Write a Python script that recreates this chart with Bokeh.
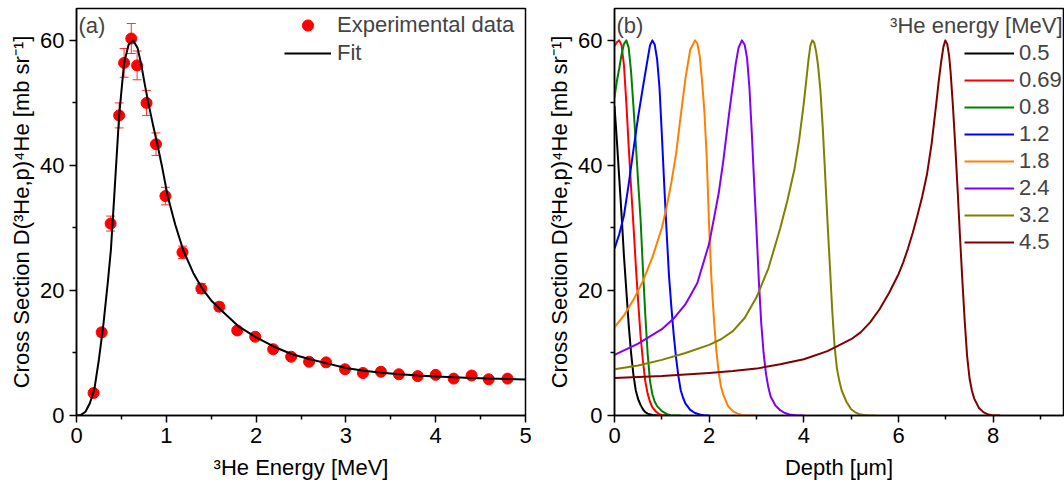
import numpy as np
from bokeh.plotting import figure
from bokeh.models import (ColumnDataSource, Whisker, TeeHead, Legend, LegendItem,
                          Label, Range1d, FixedTicker)
from bokeh.layouts import row
from bokeh.embed import file_html
from bokeh.resources import INLINE

FONT = "Liberation Sans"
FS_TICK = "22px"
FS_AXIS = "22px"
FS_LEG = "22px"

# ---------------- panel (a) data ----------------
exp_energy = [0.19, 0.28, 0.38, 0.475, 0.53, 0.61, 0.675, 0.78, 0.885, 0.99,
              1.18, 1.39, 1.59, 1.79, 1.99, 2.19, 2.39, 2.59, 2.78, 2.99,
              3.19, 3.39, 3.59, 3.80, 4.00, 4.20, 4.40, 4.59, 4.80]
exp_xs = [3.6, 13.3, 30.7, 48.0, 56.4, 60.3, 56.0, 50.0, 43.4, 35.1,
          26.1, 20.3, 17.4, 13.6, 12.6, 10.6, 9.4, 8.6, 8.5, 7.4,
          6.8, 7.0, 6.6, 6.3, 6.5, 5.9, 6.4, 5.8, 5.9]
exp_err = [0.4, 0.6, 1.2, 2.0, 2.3, 2.4, 2.3, 2.0, 1.8, 1.4,
           1.0, 0.8, 0.7, 0.5, 0.5, 0.4, 0.4, 0.3, 0.3, 0.3,
           0.3, 0.3, 0.3, 0.3, 0.3, 0.3, 0.3, 0.3, 0.3]

fit_energy = [0.0, 0.05, 0.1, 0.15, 0.2, 0.25, 0.3, 0.35, 0.383, 0.42, 0.475,
              0.53, 0.58, 0.632, 0.68, 0.72, 0.76, 0.8, 0.85, 0.9, 0.95, 1.015,
              1.1, 1.187, 1.3, 1.4, 1.5, 1.6, 1.8, 2.0, 2.2, 2.4, 2.6, 2.8, 3.0,
              3.2, 3.4, 3.6, 3.8, 4.0, 4.2, 4.4, 4.6, 4.8, 5.0]
fit_xs = [0.0, 0.1, 0.6, 2.0, 4.3, 9.0, 14.6, 21.5, 26.5, 35.0, 48.0,
          56.4, 59.3, 60.0, 58.8, 56.2, 53.0, 50.0, 46.6, 43.4, 40.0, 35.1,
          30.5, 26.5, 22.8, 20.3, 18.4, 17.0, 14.3, 12.5, 11.0, 9.8, 9.0, 8.3, 7.6,
          7.15, 6.85, 6.6, 6.4, 6.25, 6.1, 6.0, 5.9, 5.82, 5.76]

# ---------------- panel (b) data ----------------
beam_labels = ["0.5", "0.69", "0.8", "1.2", "1.8", "2.4", "3.2", "4.5"]
beam_colors = ["#000000", "#FF0000", "#008000", "#0000FF",
               "#FF8000", "#8000FF", "#808000", "#800000"]

depth_05 = [0, 0.05, 0.1, 0.15, 0.2, 0.25, 0.3, 0.35, 0.4, 0.45, 0.5, 0.55,
            0.6, 0.65, 0.7, 0.8, 0.9, 1.1]
xs_05 = [49.5, 44, 38, 32, 25.5, 20, 14.5, 10, 6.5, 4.0, 2.6, 1.7,
         1.0, 0.55, 0.3, 0.08, 0.0, 0.0]

depth_069 = [0, 0.05, 0.1, 0.15, 0.2, 0.25, 0.3, 0.35, 0.4, 0.45, 0.5, 0.55,
             0.6, 0.65, 0.7, 0.75, 0.8, 0.88, 0.95, 1.05, 1.2]
xs_069 = [59.1, 59.7, 60.0, 59.2, 56.0, 50.0, 43.0, 36.5, 30.5, 24.0, 18.2, 12.8,
          8.8, 5.5, 3.5, 2.2, 1.3, 0.6, 0.2, 0.0, 0.0]

depth_08 = [0, 0.05, 0.1, 0.15, 0.2, 0.25, 0.3, 0.35, 0.4, 0.45, 0.5, 0.55,
            0.6, 0.65, 0.7, 0.75, 0.8, 0.85, 0.9, 1.0, 1.1, 1.2, 1.4]
xs_08 = [50.9, 53.5, 55.5, 57.8, 59.4, 60.0, 58.8, 55.0, 49.5, 43.5, 37.3, 31.5,
         23.5, 16.2, 9.9, 5.5, 3.4, 2.2, 1.5, 0.7, 0.25, 0.0, 0.0]

depth_12 = [0, 0.1, 0.2, 0.3, 0.4, 0.5, 0.6, 0.7, 0.75, 0.8, 0.85, 0.9, 0.95,
            1.0, 1.05, 1.1, 1.15, 1.2, 1.25, 1.3, 1.35, 1.4, 1.45, 1.5, 1.6,
            1.7, 1.8, 1.9, 2.0]
xs_12 = [26.7, 29.0, 32.0, 37.0, 42.5, 47.8, 52.5, 57.0, 59.2, 60.0, 59.3, 57.0, 52.5,
         45.0, 37.0, 29.5, 22.5, 17.5, 13.0, 9.3, 6.3, 4.0, 2.8, 1.9, 0.9,
         0.4, 0.15, 0.0, 0.0]

depth_18 = [0, 0.2, 0.4, 0.6, 0.8, 1.0, 1.1, 1.2, 1.3, 1.4, 1.5, 1.6, 1.7, 1.75,
            1.8, 1.85, 1.9, 1.95, 2.0, 2.05, 2.1, 2.15, 2.2, 2.25, 2.3, 2.4, 2.5,
            2.6, 2.7, 2.85, 3.0]
xs_18 = [14.1, 16.0, 18.5, 21.5, 25.3, 30.0, 33.3, 37.2, 41.8, 48.0, 54.0, 58.5, 60.0, 59.5,
         57.5, 53.5, 48.5, 41.0, 30.0, 21.5, 15.5, 10.5, 7.0, 4.6, 3.3, 1.5, 0.7,
         0.3, 0.1, 0.0, 0.0]

depth_24 = [0, 0.5, 1.0, 1.25, 1.5, 1.75, 2.0, 2.1, 2.2, 2.3, 2.4, 2.45, 2.5, 2.56,
            2.62, 2.69, 2.75, 2.8, 2.85, 2.9, 2.95, 3.0, 3.05, 3.1, 3.15, 3.2, 3.25,
            3.3, 3.4, 3.5, 3.6, 3.7, 3.85, 4.0]
xs_24 = [9.7, 11.5, 13.8, 15.5, 17.8, 21.2, 27.5, 31.5, 35.5, 40.8, 47.0, 50.0, 52.8, 56.2,
         58.8, 60.0, 59.3, 57.2, 52.5, 45.3, 37.3, 29.6, 21.5, 14.8, 10.0, 6.7, 4.5,
         3.0, 1.6, 0.85, 0.4, 0.15, 0.0, 0.0]

depth_32 = [0, 0.5, 1.0, 1.5, 2.0, 2.25, 2.5, 2.75, 3.0, 3.25, 3.5, 3.65, 3.8, 3.9,
            4.0, 4.05, 4.1, 4.14, 4.18, 4.22, 4.26, 4.3, 4.35, 4.4, 4.45, 4.5, 4.55,
            4.6, 4.65, 4.7, 4.75, 4.8, 4.9, 5.0, 5.1, 5.2, 5.35, 5.5]
xs_32 = [7.4, 8.0, 8.9, 10.0, 11.3, 12.2, 13.5, 15.6, 18.9, 23.5, 29.9, 34.3, 39.3, 44.0,
         50.0, 53.5, 57.0, 59.2, 60.0, 59.6, 58.2, 56.0, 52.0, 46.0, 38.6, 31.0, 24.0,
         16.8, 11.0, 7.5, 5.5, 4.0, 2.2, 1.0, 0.45, 0.15, 0.0, 0.0]

depth_45 = [0, 1.0, 2.0, 2.5, 3.0, 3.5, 4.0, 4.5, 5.0, 5.2, 5.4, 5.6, 5.8, 6.0,
            6.1, 6.2, 6.3, 6.4, 6.5, 6.6, 6.7, 6.8, 6.85, 6.9, 6.95, 6.99, 7.03,
            7.07, 7.1, 7.15, 7.2, 7.25, 7.3, 7.35, 7.4, 7.45, 7.5, 7.55, 7.6, 7.7,
            7.8, 7.9, 8.0, 8.15]
xs_45 = [6.0, 6.3, 6.8, 7.1, 7.5, 8.2, 9.0, 10.3, 12.2, 13.3, 14.9, 17.0, 19.6, 22.6,
         24.5, 26.7, 29.2, 32.0, 35.0, 38.5, 43.5, 50.0, 53.5, 56.5, 59.0, 60.0, 59.4,
         57.5, 55.0, 49.5, 43.0, 36.0, 28.5, 21.5, 15.0, 9.5, 6.0, 4.0, 2.7, 1.2,
         0.5, 0.15, 0.0, 0.0]

beam_depths = [depth_05, depth_069, depth_08, depth_12, depth_18, depth_24, depth_32, depth_45]
beam_xs = [xs_05, xs_069, xs_08, xs_12, xs_18, xs_24, xs_32, xs_45]

YLABEL = "Cross Section D(\u00b3He,p)\u2074He [mb sr\u207b\u00b9]"


def style(p, xticks, xminor, xlabel):
    p.xaxis.ticker = FixedTicker(ticks=xticks, minor_ticks=xminor)
    p.yaxis.ticker = FixedTicker(ticks=[0, 20, 40, 60], minor_ticks=[10, 30, 50])
    p.xgrid.visible = False
    p.ygrid.visible = False
    p.outline_line_color = "black"
    p.outline_line_width = 1.5
    p.xaxis.axis_label = xlabel
    p.yaxis.axis_label = YLABEL
    for ax in (p.xaxis[0], p.yaxis[0]):
        ax.axis_line_width = 1.5
        ax.axis_line_color = "black"
        ax.major_tick_line_width = 1.5
        ax.minor_tick_line_width = 1.5
        ax.major_tick_line_color = "black"
        ax.minor_tick_line_color = "black"
        ax.major_tick_in = 0
        ax.major_tick_out = 7
        ax.minor_tick_in = 0
        ax.minor_tick_out = 4
        ax.major_label_text_font = FONT
        ax.major_label_text_font_size = FS_TICK
        ax.major_label_text_color = "black"
        ax.axis_label_text_font = FONT
        ax.axis_label_text_font_size = FS_AXIS
        ax.axis_label_text_font_style = "normal"
        ax.axis_label_text_color = "black"
    p.xaxis.major_label_standoff = 5
    p.xaxis.axis_label_standoff = 9
    p.yaxis.major_label_standoff = 5
    p.yaxis.axis_label_standoff = 3


# ---------------- panel (a) ----------------
p1 = figure(width=540, height=491, output_backend="svg", toolbar_location=None,
            x_range=Range1d(0, 5), y_range=Range1d(0, 65.1),
            min_border_left=76, min_border_right=15, min_border_top=8,
            min_border_bottom=76)
style(p1, [0, 1, 2, 3, 4, 5], [0.5, 1.5, 2.5, 3.5, 4.5], "\u00b3He Energy [MeV]")

exp_src = ColumnDataSource(dict(
    x=exp_energy, y=exp_xs,
    upper=list(np.array(exp_xs) + np.array(exp_err)),
    lower=list(np.array(exp_xs) - np.array(exp_err))))

wh = Whisker(source=exp_src, base="x", upper="upper", lower="lower",
             line_color="#FF3030", line_width=1,
             upper_head=TeeHead(size=9, line_color="#FF3030", line_width=1),
             lower_head=TeeHead(size=9, line_color="#FF3030", line_width=1))
p1.add_layout(wh)
r_sc = p1.scatter("x", "y", source=exp_src, size=11, fill_color="#FF0000",
                  line_color="#FF0000")
r_fit = p1.line(fit_energy, fit_xs, line_color="black", line_width=2)

leg1 = Legend(items=[LegendItem(label="Experimental data", renderers=[r_sc]),
                     LegendItem(label="Fit", renderers=[r_fit])],
              location=(208, 348), margin=0, padding=5, spacing=-4,
              glyph_width=47, glyph_height=28, label_standoff=6,
              label_text_font=FONT, label_text_font_size=FS_LEG,
              border_line_color=None, background_fill_alpha=0)
p1.add_layout(leg1)
p1.add_layout(Label(x=2, y=390, x_units="screen", y_units="screen", text="(a)",
                    text_font=FONT, text_font_size=FS_LEG, text_baseline="middle"))

# ---------------- panel (b) ----------------
p2 = figure(width=524, height=491, output_backend="svg", toolbar_location=None,
            x_range=Range1d(0, 9.486), y_range=Range1d(0, 65.1),
            min_border_left=74, min_border_right=1, min_border_top=8,
            min_border_bottom=76)
style(p2, [0, 2, 4, 6, 8], [1, 3, 5, 7, 9], "Depth [\u03bcm]")

items = []
for lab, col, dd, ss in zip(beam_labels, beam_colors, beam_depths, beam_xs):
    r = p2.line(dd, ss, line_color=col, line_width=2, line_join="round")
    items.append(LegendItem(label=lab, renderers=[r]))

leg2 = Legend(items=items, location=(350, 160), margin=0, padding=4, spacing=1,
              glyph_width=50, glyph_height=20, label_standoff=5,
              label_text_font=FONT, label_text_font_size=FS_LEG,
              border_line_color=None, background_fill_alpha=0)
p2.add_layout(leg2)
p2.add_layout(Label(x=448, y=390, x_units="screen", y_units="screen",
                    text="\u00b3He energy [MeV]", text_font=FONT, text_font_size=FS_LEG,
                    text_align="right", text_baseline="middle"))
p2.add_layout(Label(x=2, y=390, x_units="screen", y_units="screen", text="(b)",
                    text_font=FONT, text_font_size=FS_LEG, text_baseline="middle"))

layout = row(p1, p2)
open("out.html", "w").write(file_html(layout, INLINE))
